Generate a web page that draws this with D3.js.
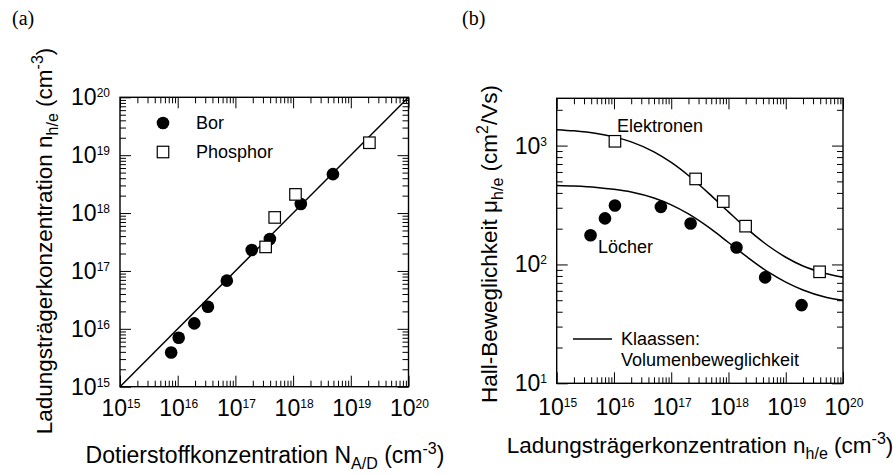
<!DOCTYPE html>
<html><head><meta charset="utf-8">
<script src="https://cdn.jsdelivr.net/npm/d3@7"></script>
<style>
body{margin:0;background:#fff}
svg{display:block}
text{font-family:"Liberation Sans",Arial,Helvetica,sans-serif;fill:#000}
.serif{font-family:"Liberation Serif","Times New Roman",serif}
</style>
</head><body>
<svg id="c" width="893" height="475"></svg>
<script>
// ---------- Panel (a) data ----------
const aTickExps = [15, 16, 17, 18, 19, 20];
const borX = [7.7e15, 1.04e16, 1.94e16, 3.34e16, 7.1e16, 1.92e17, 3.96e17, 1.36e18, 4.9e18];
const borY = [3.9e15, 7.0e15, 1.24e16, 2.4e16, 6.8e16, 2.3e17, 3.56e17, 1.43e18, 4.7e18];
const phosX = [3.34e17, 4.8e17, 1.1e18, 2.1e19];
const phosY = [2.6e17, 8.4e17, 2.1e18, 1.64e19];
const diagX = [1e15, 1e20];
const diagY = [1e15, 1e20];

// ---------- Panel (b) data ----------
const bXTickExps = [15, 16, 17, 18, 19, 20];
const bYTickExps = [1, 2, 3];
const elekX = [1.04e16, 2.67e17, 8.1e17, 1.99e18, 3.9e19];
const elekY = [1087, 524, 338, 210, 86.7];
const loechX = [3.9e15, 6.97e15, 1.04e16, 6.6e16, 2.18e17, 1.38e18, 4.37e18, 1.89e19];
const loechY = [176, 244, 313, 305, 221, 139, 77.8, 45.5];
const curveX = [1e15, 2e15, 5e15, 1e16, 2e16, 5e16, 1e17, 2e17, 5e17, 1e18, 2e18, 5e18, 1e19, 2e19, 5e19, 1e20];
const elekCurve = [1362, 1331, 1263, 1184, 1074, 885, 721, 560, 379, 277, 204, 143, 115, 97, 84, 78];
const loechCurve = [462, 457, 445, 429, 407, 362, 317, 266, 198, 153, 118, 86, 71, 61, 53, 50];

const svg = d3.select("#c");

function minorTicks(domain) {
  const out = [];
  const lo = Math.floor(Math.log10(domain[0])), hi = Math.ceil(Math.log10(domain[1]));
  for (let e = lo; e <= hi; e++) for (let m = 2; m <= 9; m++) {
    const v = m * Math.pow(10, e);
    if (v > domain[0] && v < domain[1]) out.push(v);
  }
  return out;
}

function drawFrame(g, x, y, xMaj, yMaj) {
  const [x0, x1] = x.range(), [y0, y1] = y.range();
  const xMin = minorTicks(x.domain()), yMin = minorTicks(y.domain());
  const MAJ = 11, MIN = 6;
  const add = (axis, tr) => {
    const a = g.append("g").attr("transform", tr).call(axis);
    a.select(".domain").remove();
    a.selectAll("line").attr("stroke", "#000").attr("stroke-width", 1);
  };
  add(d3.axisBottom(x).tickValues(xMaj).tickSize(-MAJ).tickFormat(""), `translate(0,${y0})`);
  add(d3.axisBottom(x).tickValues(xMin).tickSize(-MIN).tickFormat(""), `translate(0,${y0})`);
  add(d3.axisTop(x).tickValues(xMaj).tickSize(-MAJ).tickFormat(""), `translate(0,${y1})`);
  add(d3.axisTop(x).tickValues(xMin).tickSize(-MIN).tickFormat(""), `translate(0,${y1})`);
  add(d3.axisLeft(y).tickValues(yMaj).tickSize(-MAJ).tickFormat(""), `translate(${x0},0)`);
  add(d3.axisLeft(y).tickValues(yMin).tickSize(-MIN).tickFormat(""), `translate(${x0},0)`);
  add(d3.axisRight(y).tickValues(yMaj).tickSize(-MAJ).tickFormat(""), `translate(${x1},0)`);
  add(d3.axisRight(y).tickValues(yMin).tickSize(-MIN).tickFormat(""), `translate(${x1},0)`);
  g.append("rect").attr("x", x0).attr("y", y1).attr("width", x1 - x0).attr("height", y0 - y1)
    .attr("fill", "none").attr("stroke", "#000").attr("stroke-width", 1.4);
}

function powLabel(g, px, py, exp, anchor) {
  const t = g.append("text").attr("x", px).attr("y", py).attr("text-anchor", anchor).style("font-size", "23px");
  t.append("tspan").text("10");
  t.append("tspan").attr("dy", -8).style("font-size", "12px").text(exp);
}

function richText(g, parts, size) {
  const t = g.append("text").style("font-size", size + "px");
  let cur = 0;
  const off = {0: 0, 1: 6, 2: -9};
  parts.forEach(([s, m]) => {
    const ts = t.append("tspan").text(s).attr("dy", off[m] - off[cur]);
    if (m !== 0) ts.style("font-size", Math.round(size * 0.7) + "px");
    cur = m;
  });
  return t;
}

function circles(g, x, y, xs, ys) {
  g.selectAll(null).data(xs.map((v, i) => [v, ys[i]])).enter().append("circle")
    .attr("cx", d => x(d[0])).attr("cy", d => y(d[1])).attr("r", 6.3).attr("fill", "#000");
}
function squares(g, x, y, xs, ys) {
  const s = 11.5;
  g.selectAll(null).data(xs.map((v, i) => [v, ys[i]])).enter().append("rect")
    .attr("x", d => x(d[0]) - s / 2).attr("y", d => y(d[1]) - s / 2).attr("width", s).attr("height", s)
    .attr("fill", "#fff").attr("stroke", "#000").attr("stroke-width", 1.2);
}

// ================= Panel (a) =================
{
  const g = svg.append("g");
  const x = d3.scaleLog().domain([1e15, 1e20]).range([120, 408.5]);
  const y = d3.scaleLog().domain([1e15, 1e20]).range([386.7, 97.3]);
  const maj = aTickExps.map(e => Math.pow(10, e));

  g.append("path").datum(diagX.map((v, i) => [v, diagY[i]]))
    .attr("d", d3.line().x(d => x(d[0])).y(d => y(d[1])))
    .attr("fill", "none").attr("stroke", "#000").attr("stroke-width", 1.5);

  drawFrame(g, x, y, maj, maj);
  circles(g, x, y, borX, borY);
  squares(g, x, y, phosX, phosY);

  aTickExps.forEach(e => powLabel(g, x(Math.pow(10, e)) + 1, 416, e, "middle"));
  aTickExps.forEach(e => powLabel(g, 110, y(Math.pow(10, e)) + 8, e, "end"));

  g.append("circle").attr("cx", 163).attr("cy", 123).attr("r", 6.3).attr("fill", "#000");
  g.append("rect").attr("x", 163 - 5.75).attr("y", 152 - 5.75).attr("width", 11.5).attr("height", 11.5)
    .attr("fill", "#fff").attr("stroke", "#000").attr("stroke-width", 1.2);
  g.append("text").attr("x", 196).attr("y", 129).style("font-size", "18px").text("Bor");
  g.append("text").attr("x", 196).attr("y", 158).style("font-size", "18px").text("Phosphor");

  richText(g, [["Dotierstoffkonzentration N", 0], ["A/D", 1], [" (cm", 0], ["-3", 2], [")", 0]], 23)
    .attr("x", 265).attr("y", 463).attr("text-anchor", "middle");
  richText(g, [["Ladungsträgerkonzentration n", 0], ["h/e", 1], [" (cm", 0], ["-3", 2], [")", 0]], 22.5)
    .attr("text-anchor", "middle").attr("transform", "translate(52,241) rotate(-90)");

  g.append("text").attr("class", "serif").attr("x", 12).attr("y", 25).style("font-size", "20px").text("(a)");
}

// ================= Panel (b) =================
{
  const g = svg.append("g");
  const x = d3.scaleLog().domain([1e15, 1e20]).range([556.7, 843]);
  const y = d3.scaleLog().domain([10, 2500]).range([383.3, 98.3]);
  const xMaj = bXTickExps.map(e => Math.pow(10, e));
  const yMaj = bYTickExps.map(e => Math.pow(10, e));

  const line = d3.line().x(d => x(d[0])).y(d => y(d[1])).curve(d3.curveMonotoneX);
  g.append("path").datum(curveX.map((v, i) => [v, elekCurve[i]])).attr("d", line)
    .attr("fill", "none").attr("stroke", "#000").attr("stroke-width", 1.5);
  g.append("path").datum(curveX.map((v, i) => [v, loechCurve[i]])).attr("d", line)
    .attr("fill", "none").attr("stroke", "#000").attr("stroke-width", 1.5);

  drawFrame(g, x, y, xMaj, yMaj);
  circles(g, x, y, loechX, loechY);
  squares(g, x, y, elekX, elekY);

  bXTickExps.forEach(e => powLabel(g, x(Math.pow(10, e)) + 1, 415, e, "middle"));
  bYTickExps.forEach(e => powLabel(g, 547, y(Math.pow(10, e)) + 8, e, "end"));

  g.append("text").attr("x", 617).attr("y", 132).style("font-size", "18px").text("Elektronen");
  g.append("text").attr("x", 598).attr("y", 253).style("font-size", "18px").text("Löcher");

  g.append("line").attr("x1", 573).attr("x2", 612).attr("y1", 339).attr("y2", 339)
    .attr("stroke", "#000").attr("stroke-width", 1.5);
  g.append("text").attr("x", 621).attr("y", 345).style("font-size", "18px").text("Klaassen:");
  g.append("text").attr("x", 621).attr("y", 366).style("font-size", "18px").text("Volumenbeweglichkeit");

  richText(g, [["Ladungsträgerkonzentration n", 0], ["h/e", 1], [" (cm", 0], ["-3", 2], [")", 0]], 22.5)
    .attr("x", 700).attr("y", 453).attr("text-anchor", "middle");
  richText(g, [["Hall-Beweglichkeit μ", 0], ["h/e", 1], [" (cm", 0], ["2", 2], ["/Vs)", 0]], 22.5)
    .attr("text-anchor", "middle").attr("transform", "translate(497,244) rotate(-90)");

  g.append("text").attr("class", "serif").attr("x", 462).attr("y", 25).style("font-size", "20px").text("(b)");
}
</script>
</body></html>
